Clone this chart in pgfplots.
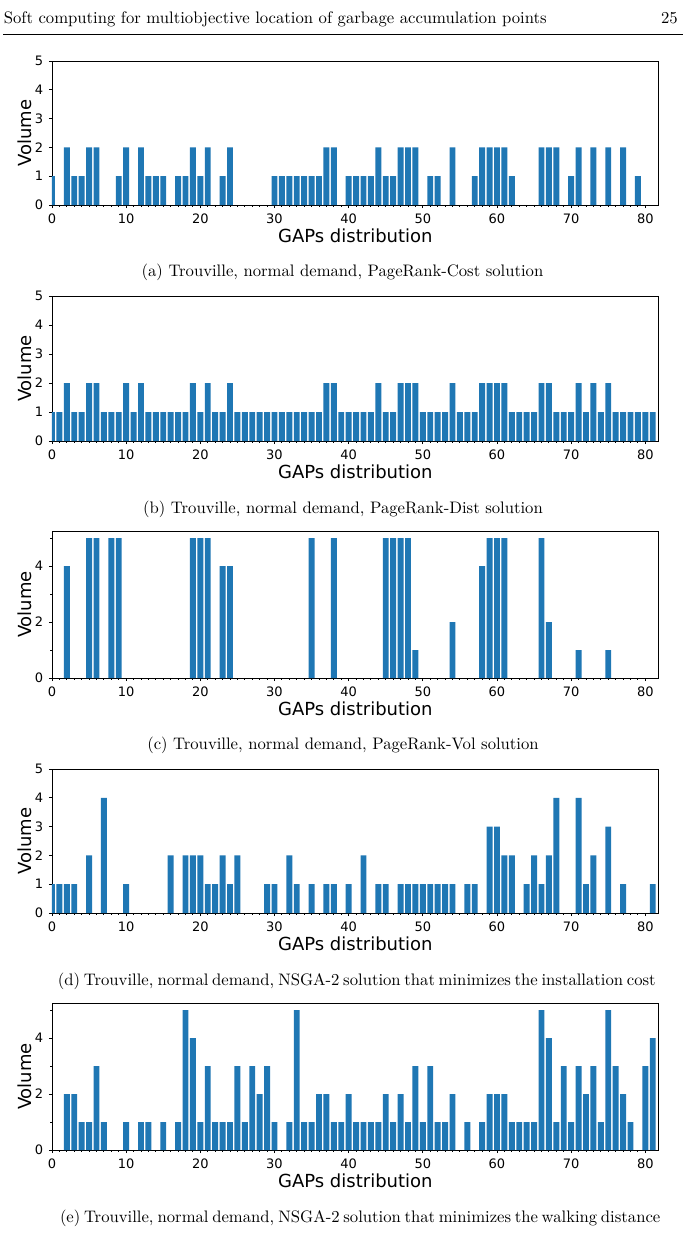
\documentclass[border=0pt]{standalone}
\usepackage{fontspec}
\usepackage{pgfplots}
\pgfplotsset{compat=1.18}
\newfontfamily\djv{DejaVu Sans}
\definecolor{c0}{HTML}{1F77B4}
\pgfplotsset{gapstyle/.style={
  scale only axis, width=364pt,
  xmin=0, xmax=81.8, ymin=0,
  xtick={0,10,...,80}, minor x tick num=9,
  ybar, bar width=0.8,
  tick align=outside, tick pos=left,
  major tick length=1.8pt, minor tick length=1.1pt,
  every tick/.style={black, line width=0.5pt},
  axis line style={line width=0.5pt},
  tick label style={font=\djv\fontsize{7.8}{8}\selectfont},
  /pgf/number format/assume math mode=true,
  xlabel={GAPs distribution}, ylabel={Volume},
  label style={font=\djv\fontsize{10.8}{12}\selectfont},
  xlabel style={at={([yshift=-18.6pt]axis description cs:0.5,0)}, anchor=center},
  ylabel style={at={([xshift=-16.5pt]axis description cs:0,0.5)}, anchor=center},
  anchor=south west,
},
y5/.style={ymax=5, ytick={0,1,2,3,4,5}},
y525/.style={ymax=5.25, ytick={0,2,4}, minor ytick={1,3,5}},
bars/.style={fill=c0, draw=none},
}
\begin{document}
\begin{tikzpicture}
\useasboundingbox (0,0) rectangle (411.6pt,-739.8pt);
\node[anchor=base west, font=\fontsize{10}{12}\selectfont, inner sep=0pt] at (2.1pt,-13.8pt) {Soft computing for multiobjective location of garbage accumulation points};
\node[anchor=base east, font=\fontsize{10}{12}\selectfont, inner sep=0pt] at (406.8pt,-13.8pt) {25};
\draw[line width=0.4pt] (1.8pt,-20.4pt) -- (409.8pt,-20.4pt);

% (a)
\begin{axis}[gapstyle, y5, at={(31.2pt,-123pt)}, height=86.4pt]
\addplot[bars] coordinates {(0,1)(2,2)(3,1)(4,1)(5,2)(6,2)(9,1)(10,2)(12,2)(13,1)(14,1)(15,1)(17,1)(18,1)(19,2)(20,1)(21,2)(23,1)(24,2)(30,1)(31,1)(32,1)(33,1)(34,1)(35,1)(36,1)(37,2)(38,2)(40,1)(41,1)(42,1)(43,1)(44,2)(45,1)(46,1)(47,2)(48,2)(49,2)(51,1)(52,1)(54,2)(57,1)(58,2)(59,2)(60,2)(61,2)(62,1)(66,2)(67,2)(68,2)(70,1)(71,2)(73,2)(75,2)(77,2)(79,1)};
\end{axis}
\node[font=\fontsize{10}{12}\selectfont] at (205.5pt,-163.2pt) {(a) Trouville, normal demand, PageRank-Cost solution};

% (b)
\begin{axis}[gapstyle, y5, at={(31.2pt,-264.6pt)}, height=87pt]
\addplot[bars] coordinates {(0,1)(1,1)(2,2)(3,1)(4,1)(5,2)(6,2)(7,1)(8,1)(9,1)(10,2)(11,1)(12,2)(13,1)(14,1)(15,1)(16,1)(17,1)(18,1)(19,2)(20,1)(21,2)(22,1)(23,1)(24,2)(25,1)(26,1)(27,1)(28,1)(29,1)(30,1)(31,1)(32,1)(33,1)(34,1)(35,1)(36,1)(37,2)(38,2)(39,1)(40,1)(41,1)(42,1)(43,1)(44,2)(45,1)(46,1)(47,2)(48,2)(49,2)(50,1)(51,1)(52,1)(53,1)(54,2)(55,1)(56,1)(57,1)(58,2)(59,2)(60,2)(61,2)(62,1)(63,1)(64,1)(65,1)(66,2)(67,2)(68,1)(69,1)(70,1)(71,2)(72,1)(73,2)(74,1)(75,2)(76,1)(77,1)(78,1)(79,1)(80,1)(81,1)};
\end{axis}
\node[font=\fontsize{10}{12}\selectfont] at (205.8pt,-305.4pt) {(b) Trouville, normal demand, PageRank-Dist solution};

% (c)
\begin{axis}[gapstyle, y525, at={(31.2pt,-406.8pt)}, height=88.2pt]
\addplot[bars] coordinates {(2,4)(5,5)(6,5)(8,5)(9,5)(19,5)(20,5)(21,5)(23,4)(24,4)(35,5)(38,5)(45,5)(46,5)(47,5)(48,5)(49,1)(54,2)(58,4)(59,5)(60,5)(61,5)(66,5)(67,2)(71,1)(75,1)};
\end{axis}
\node[font=\fontsize{10}{12}\selectfont] at (205.8pt,-447pt) {(c) Trouville, normal demand, PageRank-Vol solution};

% (d)
\begin{axis}[gapstyle, y5, at={(31.2pt,-547.8pt)}, height=86.4pt]
\addplot[bars] coordinates {(0,1)(1,1)(2,1)(3,1)(5,2)(7,4)(10,1)(16,2)(18,2)(19,2)(20,2)(21,1)(22,1)(23,2)(24,1)(25,2)(29,1)(30,1)(32,2)(33,1)(35,1)(37,1)(38,1)(40,1)(42,2)(44,1)(45,1)(47,1)(48,1)(49,1)(50,1)(51,1)(52,1)(53,1)(54,1)(56,1)(57,1)(59,3)(60,3)(61,2)(62,2)(64,1)(65,2)(66,1)(67,2)(68,4)(71,4)(72,1)(73,2)(75,3)(77,1)(81,1)};
\end{axis}
\node[font=\fontsize{10}{12}\selectfont, inner sep=0pt] at (213.9pt,-588.6pt) {\hbox to 358.2pt{(d) Trouville, normal demand, NSGA-2 solution that minimizes the installation cost}};

% (e)
\begin{axis}[gapstyle, y525, at={(31.2pt,-690pt)}, height=88.2pt]
\addplot[bars] coordinates {(2,2)(3,2)(4,1)(5,1)(6,3)(7,1)(10,1)(12,1)(13,1)(15,1)(17,1)(18,5)(19,4)(20,1)(21,3)(22,1)(23,1)(24,1)(25,3)(26,1)(27,3)(28,2)(29,3)(30,1)(32,1)(33,5)(34,1)(35,1)(36,2)(37,2)(38,1)(39,1)(40,2)(41,1)(42,1)(43,1)(44,1)(45,2)(46,1)(47,2)(48,1)(49,3)(50,1)(51,3)(52,1)(53,1)(54,2)(56,1)(58,1)(59,2)(60,2)(61,2)(62,1)(63,1)(64,1)(65,1)(66,5)(67,4)(68,1)(69,3)(70,1)(71,3)(72,2)(73,3)(74,1)(75,5)(76,3)(77,2)(78,1)(80,3)(81,4)};
\end{axis}
\node[font=\fontsize{10}{12}\selectfont, inner sep=0pt] at (215.1pt,-730.8pt) {\hbox to 358.2pt{(e) Trouville, normal demand, NSGA-2 solution that minimizes the walking distance}};
\end{tikzpicture}
\end{document}
